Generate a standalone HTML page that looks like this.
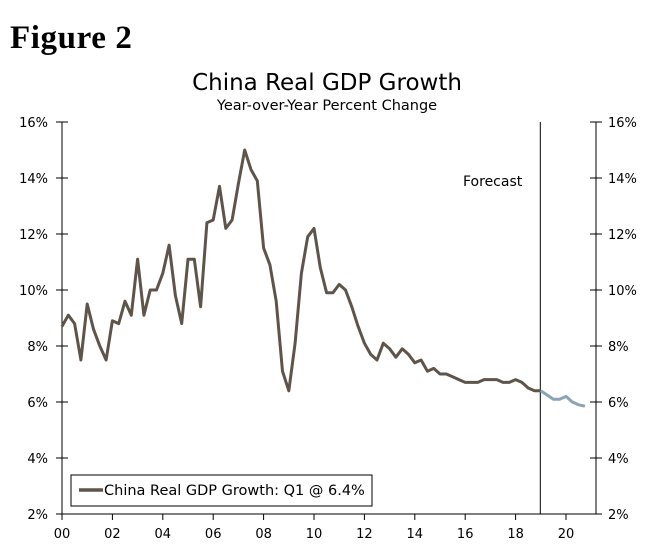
<!DOCTYPE html>
<html><head><meta charset="utf-8"><style>
body{margin:0;background:#fff;width:654px;height:549px;overflow:hidden}
svg{display:block}
text{font-family:"DejaVu Sans","Liberation Sans",sans-serif;fill:#000}
</style></head><body>
<svg id="chart" width="654" height="549">
<text x="10" y="48" style="font-family:'Liberation Serif',serif;font-weight:bold;font-size:33px;letter-spacing:0.6px">Figure 2</text>
<text x="327" y="90" text-anchor="middle" font-size="23">China Real GDP Growth</text>
<text x="327" y="110" text-anchor="middle" font-size="14.5">Year-over-Year Percent Change</text>
<g id="axes"></g>
<g id="series"></g>
<text x="463" y="186" font-size="14">Forecast</text>
<rect x="71" y="475" width="301" height="31" fill="#fff" stroke="#000" stroke-width="1"/>
<line x1="79" y1="490" x2="103" y2="490" stroke="#5e544a" stroke-width="3.5"/>
<text x="104" y="495" font-size="14.5">China Real GDP Growth: Q1 @ 6.4%</text>
</svg>
<script>
const yTicks=[2,4,6,8,10,12,14,16];
const xTickLabels=["00","02","04","06","08","10","12","14","16","18","20"];
const xTickYears=[0,2,4,6,8,10,12,14,16,18,20];
const actual=[8.7,9.1,8.8,7.5,9.5,8.6,8.0,7.5,8.9,8.8,9.6,9.1,11.1,9.1,10.0,10.0,10.6,11.6,9.8,8.8,11.1,11.1,9.4,12.4,12.5,13.7,12.2,12.5,13.8,15.0,14.3,13.9,11.5,10.9,9.6,7.1,6.4,8.1,10.6,11.9,12.2,10.8,9.9,9.9,10.2,10.0,9.4,8.7,8.1,7.7,7.5,8.1,7.9,7.6,7.9,7.7,7.4,7.5,7.1,7.2,7.0,7.0,6.9,6.8,6.7,6.7,6.7,6.8,6.8,6.8,6.7,6.7,6.8,6.7,6.5,6.4,6.4];
const forecast=[6.4,6.25,6.1,6.1,6.2,6.0,5.9,5.85];
const forecastStartIndex=76;
const forecastYear=19;
const X0=62,X1=596,Y0=514,Y1=122;
const xs=q=>X0+q*6.3;
const xy=y=>X0+y*25.2;
const ys=v=>Y0-(v-2)/14*(Y0-Y1);
const NS="http://www.w3.org/2000/svg";
function mk(t,a,p){const e=document.createElementNS(NS,t);for(const k in a)e.setAttribute(k,a[k]);p.appendChild(e);return e;}
const ax=document.getElementById('axes');
let e;
e=mk('line',{x1:X0,y1:Y1,x2:X0,y2:Y0,stroke:'#000'},ax);


e=mk('line',{x1:X1,y1:Y1,x2:X1,y2:Y0,stroke:'#000'},ax);


e=mk('line',{x1:X0,y1:Y0,x2:X1,y2:Y0,stroke:'#000'},ax);


yTicks.forEach(v=>{const y=ys(v);
 mk('line',{x1:X0-6,y1:y,x2:X0+6,y2:y,stroke:'#000'},ax);
 mk('line',{x1:X1-6,y1:y,x2:X1+6,y2:y,stroke:'#000'},ax);
 e=mk('text',{x:48,y:y+5,'text-anchor':'end','font-size':13},ax);e.textContent=v+'%';
 
 
 e=mk('text',{x:608,y:y+5,'font-size':13},ax);e.textContent=v+'%';
 
 
});
xTickYears.forEach((yr,i)=>{const x=xy(yr);
 mk('line',{x1:x,y1:Y0,x2:x,y2:Y0+6,stroke:'#000'},ax);
 e=mk('text',{x:x,y:538,'text-anchor':'middle','font-size':13},ax);e.textContent=xTickLabels[i];
 
 
});
e=mk('line',{x1:xy(forecastYear)-0.5,y1:Y1,x2:xy(forecastYear)-0.5,y2:Y0,stroke:'#000'},ax);


const sg=document.getElementById('series');
e=mk('polyline',{points:actual.map((v,i)=>xs(i)+','+ys(v)).join(' '),fill:'none',stroke:'#5e544a','stroke-width':3,'stroke-linejoin':'round'},sg);


e=mk('polyline',{points:forecast.map((v,i)=>xs(i+forecastStartIndex)+','+ys(v)).join(' '),fill:'none',stroke:'#8ba4b3','stroke-width':3,'stroke-linejoin':'round'},sg);


</script>
</body></html>
